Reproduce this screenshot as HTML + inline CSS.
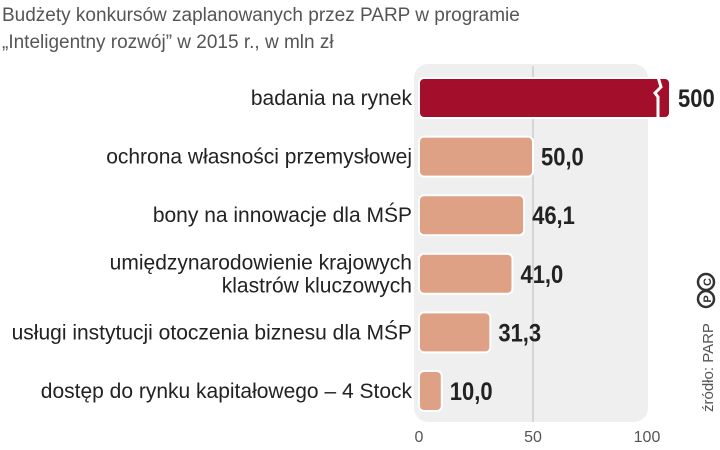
<!DOCTYPE html>
<html><head><meta charset="utf-8"><style>
body{margin:0;background:#fff;font-family:"Liberation Sans",sans-serif}
svg text{font-family:"Liberation Sans",sans-serif}
</style></head><body>
<svg width="720" height="445" xmlns="http://www.w3.org/2000/svg">
<text x="2" y="21" font-size="19" fill="#555">Budżety konkursów zaplanowanych przez PARP w programie</text>
<text x="2" y="48" font-size="19" fill="#555">„Inteligentny rozwój” w 2015 r., w mln zł</text>
<rect x="414" y="64" width="234" height="358" rx="14" fill="#efefef"/>
<g id="grid"></g><g id="bars"></g><g id="labels"></g><g id="ticks"></g>
<text transform="translate(713,412) rotate(-90)" font-size="15" fill="#555">źródło: PARP</text>
<g>
<circle cx="706" cy="282" r="8" fill="none" stroke="#333" stroke-width="2.5"/>
<circle cx="706" cy="299" r="8" fill="none" stroke="#333" stroke-width="2.5"/>
<text x="706" y="287" font-size="11" font-weight="bold" text-anchor="middle" fill="#333" transform="rotate(-90,706,282)">C</text>
<text x="706" y="304" font-size="11" font-weight="bold" text-anchor="middle" fill="#333" transform="rotate(-90,706,299)">P</text>
</g>
</svg>
<script>
const categories=[["badania na rynek"],["ochrona własności przemysłowej"],["bony na innowacje dla MŚP"],["umiędzynarodowienie krajowych","klastrów kluczowych"],["usługi instytucji otoczenia biznesu dla MŚP"],["dostęp do rynku kapitałowego – 4 Stock"]];
const values=[500,50.0,46.1,41.0,31.3,10.0];
const valueLabels=["500","50,0","46,1","41,0","31,3","10,0"];
const ticks=[0,50,100];
const NS="http://www.w3.org/2000/svg";
const x0=419,x1=647;
function xs(v){return x0+(v/100)*(x1-x0);}
function yc(i){return 98+i*58.6;}
function mk(t,a,p){const e=document.createElementNS(NS,t);for(const k in a)e.setAttribute(k,a[k]);p.appendChild(e);return e;}
const gG=document.getElementById('grid'),gB=document.getElementById('bars'),gL=document.getElementById('labels'),gT=document.getElementById('ticks');
const gl=mk('line',{x1:xs(50),x2:xs(50),y1:66,y2:422,stroke:'#bbb','stroke-width':1},gG);


values.forEach((v,i)=>{
 const broken=v>100;
 const w=broken?670-x0:xs(v)-x0;
 const r=mk('rect',{x:x0,y:yc(i)-20,width:w,height:40,rx:5,fill:broken?'#a30f2a':'#dfa186',stroke:'#fff','stroke-width':2},gB);
 
 
 if(broken){const p=mk('path',{d:`M${x0+w-12} ${yc(i)-21} l3 10 l-6 6 l3 4 l0 22`,stroke:'#fff','stroke-width':3,fill:'none'},gB);
  
  }
 const vt=mk('text',{x:x0+w+8,y:yc(i)+9,'font-size':25,'font-weight':'bold',fill:'#222',transform:`translate(${x0+w+8} 0) scale(0.88 1) translate(${-(x0+w+8)} 0)`},gL);
 vt.textContent=valueLabels[i];
 
 
 const lines=categories[i];
 lines.forEach((ln,j)=>{
  const t=mk('text',{x:412,y:yc(i)+7+(j-(lines.length-1)/2)*23,'font-size':21,'text-anchor':'end',fill:'#222'},gL);
  t.textContent=ln;
  
  
 });
});
ticks.forEach(v=>{
 const t=mk('text',{x:xs(v),y:442,'font-size':16,'text-anchor':'middle',fill:'#555'},gT);
 t.textContent=v;
 
 
});
</script>
</body></html>
